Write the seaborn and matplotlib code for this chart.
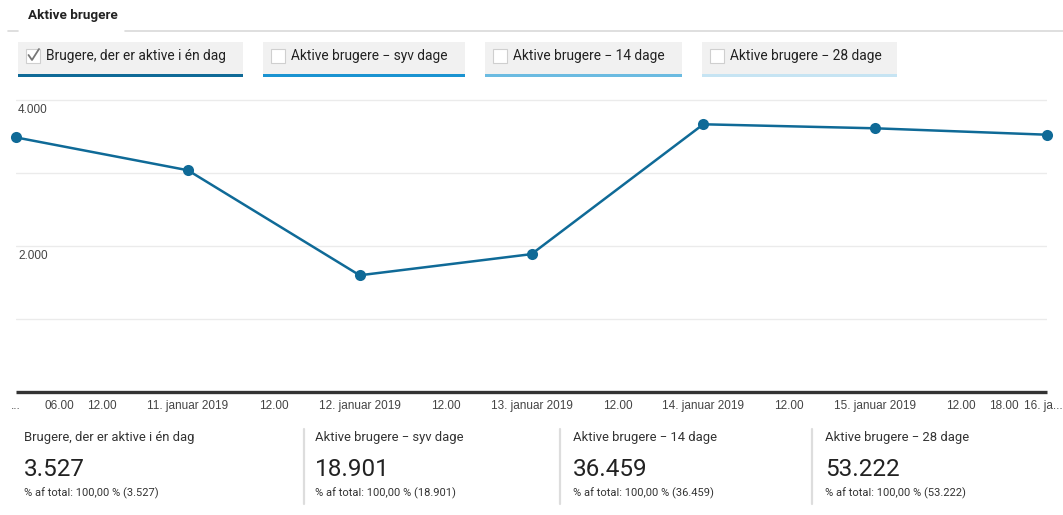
import matplotlib
matplotlib.use("Agg")
import matplotlib.pyplot as plt
import matplotlib.dates as mdates
import matplotlib.transforms as mtrans
from matplotlib.patches import Rectangle
from matplotlib.lines import Line2D
import seaborn as sns
import pandas as pd

# ---------------- data ----------------
dates = ["2019-01-10", "2019-01-11", "2019-01-12", "2019-01-13",
         "2019-01-14", "2019-01-15", "2019-01-16"]
users_1day = [3490, 3040, 1600, 1890, 3670, 3615, 3527]

tick_times = ["2019-01-10 00:00", "2019-01-10 06:00", "2019-01-10 12:00",
              "2019-01-11 00:00", "2019-01-11 12:00", "2019-01-12 00:00",
              "2019-01-12 12:00", "2019-01-13 00:00", "2019-01-13 12:00",
              "2019-01-14 00:00", "2019-01-14 12:00", "2019-01-15 00:00",
              "2019-01-15 12:00", "2019-01-15 18:00", "2019-01-16 00:00"]
tick_labels = ["...", "06.00", "12.00", "11. januar 2019", "12.00",
               "12. januar 2019", "12.00", "13. januar 2019", "12.00",
               "14. januar 2019", "12.00", "15. januar 2019", "12.00",
               "18.00", "16. ja..."]
grid_values = [1000, 2000, 3000, 4000]
ylabel_values = [2000, 4000]
ylabel_texts = ["2.000", "4.000"]

tab_labels = ["Brugere, der er aktive i én dag", "Aktive brugere \u2212 syv dage",
              "Aktive brugere \u2212 14 dage", "Aktive brugere \u2212 28 dage"]
tab_colors = ["#0f6a97", "#1a93d1", "#6bbbe1", "#c6e4f3"]
summary_titles = tab_labels
summary_values = ["3.527", "18.901", "36.459", "53.222"]
summary_subs = ["% af total: 100,00 % (3.527)", "% af total: 100,00 % (18.901)",
                "% af total: 100,00 % (36.459)", "% af total: 100,00 % (53.222)"]

LINE = "#0f6a97"
W, H = 1063, 515

df = pd.DataFrame({"dato": pd.to_datetime(dates), "brugere": users_1day})

sns.set_theme(style="white")
plt.rcParams["font.family"] = ["Roboto", "DejaVu Sans"]

fig = plt.figure(figsize=(W / 100, H / 100), dpi=100)
fig.patch.set_facecolor("white")


def fx(px):
    return px / W


def fy(py):
    return 1 - py / H


# ---------------- main axes ----------------
ax_left, ax_right, ax_bottom, ax_top = 16, 1047, 392, 90
ax = fig.add_axes([fx(ax_left), fy(ax_bottom), fx(ax_right - ax_left),
                   (ax_bottom - ax_top) / H])
ax.set_facecolor("white")

for v in grid_values:
    ax.axhline(v, color="#ebebeb", lw=1.0, zorder=0)

sns.lineplot(data=df, x="dato", y="brugere", ax=ax, color=LINE, lw=1.8,
             marker="o", markersize=8, markeredgewidth=0, clip_on=False, zorder=3)

ax.set_xlim(df["dato"].iloc[0], df["dato"].iloc[-1])
ax.set_ylim(0, 4140)
ax.set_xlabel("")
ax.set_ylabel("")
ax.set_yticks([])

tpos = mdates.date2num(pd.to_datetime(tick_times))
ax.set_xticks(tpos)
ax.set_xticklabels(tick_labels, fontsize=8.5, color="#444444",
                   family=["Liberation Sans", "DejaVu Sans"])
ax.tick_params(axis="x", length=0, pad=6)
lbls = ax.get_xticklabels()
lbls[-1].set_transform(lbls[-1].get_transform() +
                       mtrans.ScaledTranslation(-4 / 100, 0, fig.dpi_scale_trans))

for s in ["top", "right", "left"]:
    ax.spines[s].set_visible(False)
ax.spines["bottom"].set_color("#333333")
ax.spines["bottom"].set_linewidth(2.4)
ax.spines["bottom"].set_capstyle("butt")

ytr = ax.get_yaxis_transform() + mtrans.ScaledTranslation(0, -4 / 100, fig.dpi_scale_trans)
for v, t in zip(ylabel_values, ylabel_texts):
    ax.text(0.002, v, t, transform=ytr, ha="left", va="top", fontsize=8.5,
            color="#444444", family=["Liberation Sans", "DejaVu Sans"])

# ---------------- header ----------------
fig.text(fx(28), fy(16), "Aktive brugere", fontsize=9.7, fontweight="bold",
         color="#222222", ha="left", va="center")
fig.add_artist(Line2D([fx(8), fx(18)], [fy(31), fy(31)], color="#d9d9d9", lw=1.2))
fig.add_artist(Line2D([fx(125), fx(1063)], [fy(31), fy(31)], color="#d9d9d9", lw=1.2))

tab_x = [(18, 243), (263, 465), (485, 682), (702, 897)]
for (x0, x1), lab, col, i in zip(tab_x, tab_labels, tab_colors, range(4)):
    fig.add_artist(Rectangle((fx(x0), fy(77)), fx(x1 - x0), (77 - 42) / H,
                             facecolor="#f1f1f1", edgecolor="none"))
    fig.add_artist(Rectangle((fx(x0), fy(77)), fx(x1 - x0), 3.5 / H,
                             facecolor=col, edgecolor="none"))
    # checkbox
    cb = 8
    fig.add_artist(Rectangle((fx(x0 + cb), fy(63)), fx(14), 14 / H,
                             facecolor="white", edgecolor="#cfcfcf", lw=0.8))
    if i == 0:
        fig.add_artist(Line2D([fx(x0 + cb + 2.5), fx(x0 + cb + 6), fx(x0 + cb + 13)],
                              [fy(55), fy(60), fy(49)], color="#777777", lw=1.3))
    fig.text(fx(x0 + 28), fy(56), lab, fontsize=9.9, color="#222222",
             ha="left", va="center")

# ---------------- summary ----------------
sum_x = [24, 315, 573, 825]
for x, t, v, s in zip(sum_x, summary_titles, summary_values, summary_subs):
    fig.text(fx(x), fy(437), t, fontsize=9.4, color="#333333", ha="left", va="center")
    fig.text(fx(x), fy(470), v, fontsize=17.5, color="#222222", ha="left", va="center")
    fig.text(fx(x), fy(493), s, fontsize=8, color="#333333", ha="left", va="center")
for x in [304, 560, 812]:
    fig.add_artist(Line2D([fx(x), fx(x)], [fy(429), fy(504)], color="#dddddd", lw=1.6))

fig.savefig("out.png", dpi=100, facecolor="white")
